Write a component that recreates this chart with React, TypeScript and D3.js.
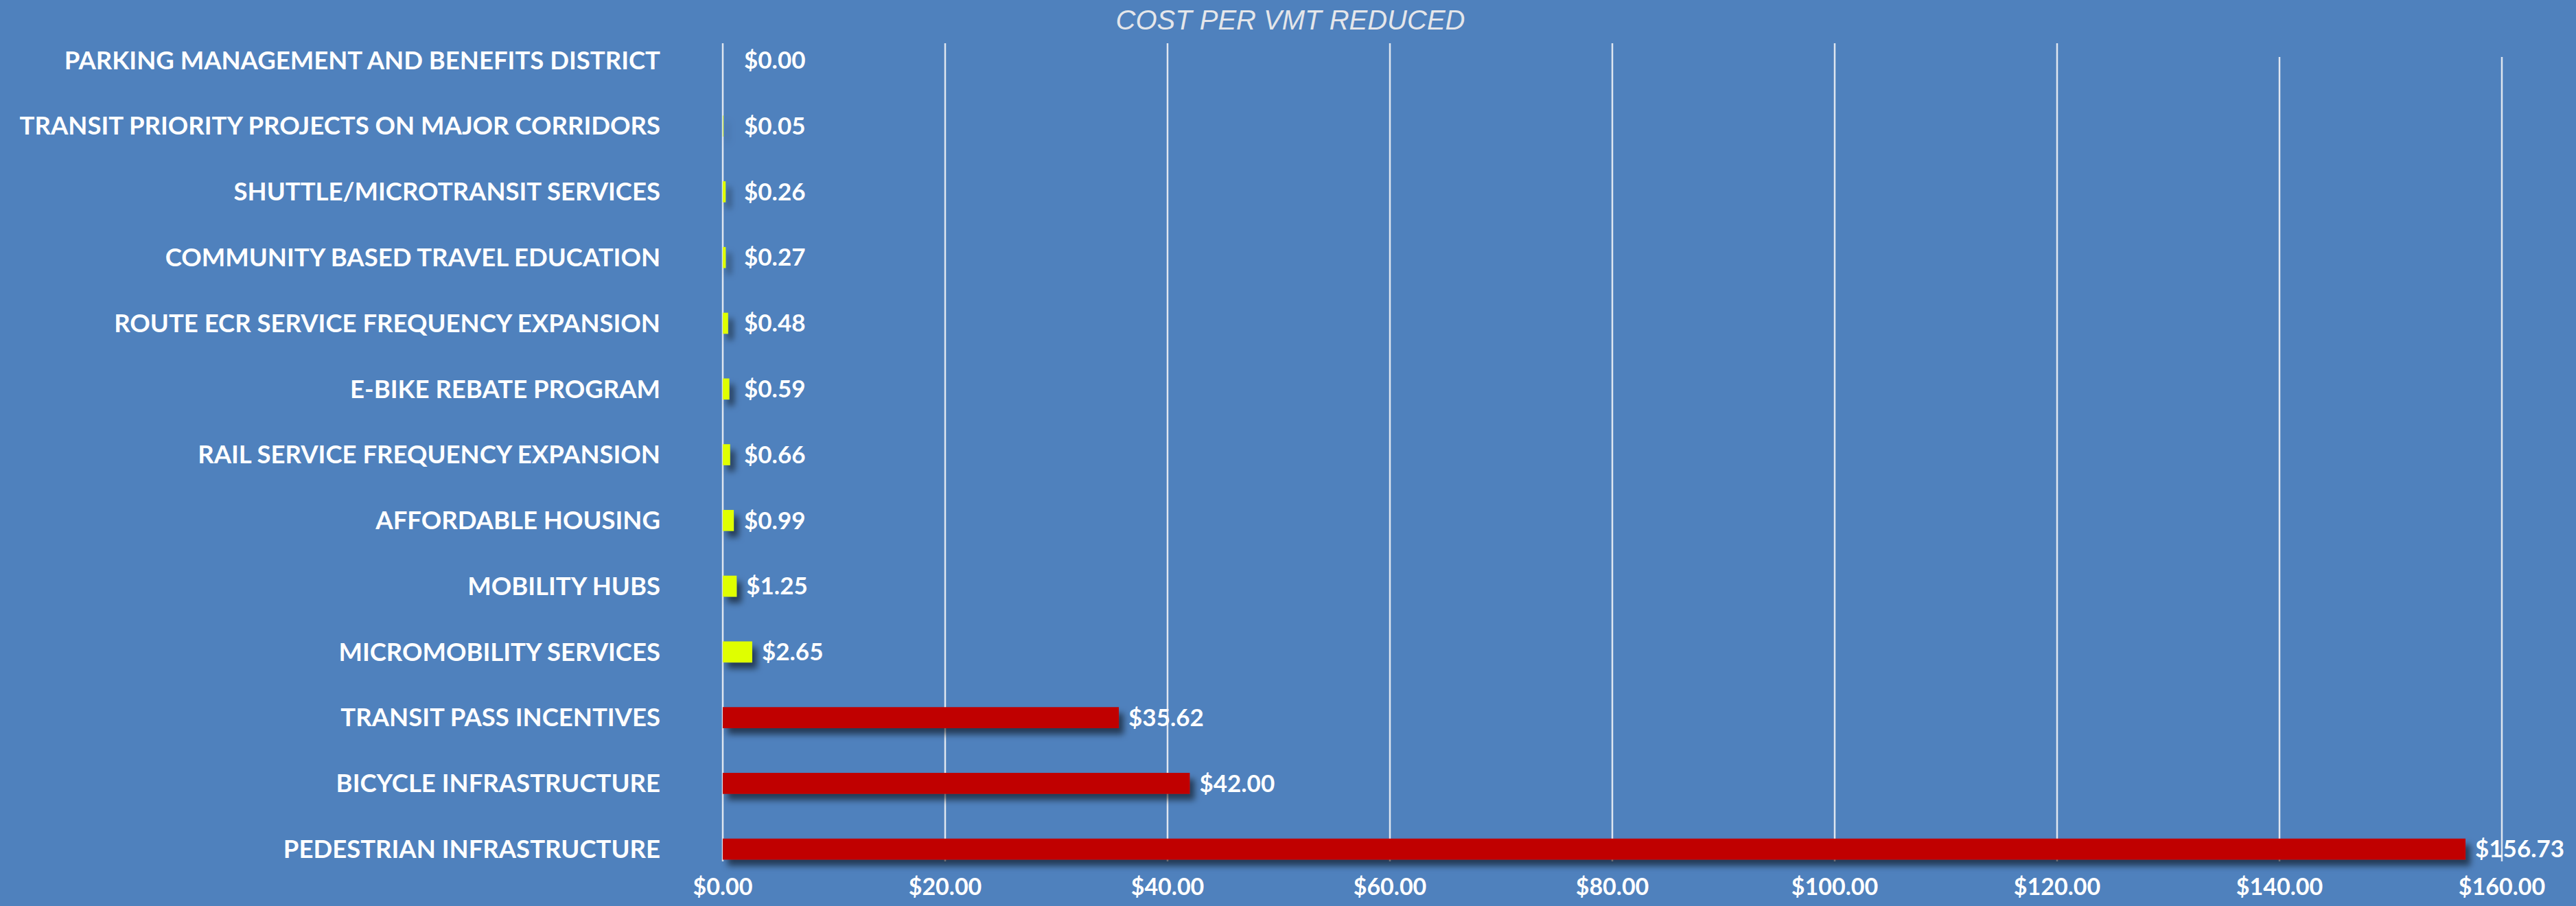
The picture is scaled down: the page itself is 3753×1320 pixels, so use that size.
import React, { useEffect, useRef } from "react";
import * as d3 from "d3";

const categories = [
    "PARKING MANAGEMENT AND BENEFITS DISTRICT",
    "TRANSIT PRIORITY PROJECTS ON MAJOR CORRIDORS",
    "SHUTTLE/MICROTRANSIT SERVICES",
    "COMMUNITY BASED TRAVEL EDUCATION",
    "ROUTE ECR SERVICE FREQUENCY EXPANSION",
    "E-BIKE REBATE PROGRAM",
    "RAIL SERVICE FREQUENCY EXPANSION",
    "AFFORDABLE HOUSING",
    "MOBILITY HUBS",
    "MICROMOBILITY SERVICES",
    "TRANSIT PASS INCENTIVES",
    "BICYCLE INFRASTRUCTURE",
    "PEDESTRIAN INFRASTRUCTURE",
];

const costs = [0.0, 0.05, 0.26, 0.27, 0.48, 0.59, 0.66, 0.99, 1.25, 2.65, 35.62, 42.0, 156.73];

const xTicks = [0, 20, 40, 60, 80, 100, 120, 140, 160];

const W = 3753;
const H = 1320;
const BG = "#4f81bd";
const RED = "#c00000";
const LIME = "#dfff00";
const LABEL_FONT = "Lato, 'Open Sans', sans-serif";

export default function App() {
    const ref = useRef(null);

    useEffect(() => {
        const svg = d3.select(ref.current);
        svg.selectAll("*").remove();

        const x = d3.scaleLinear().domain([0, 160]).range([1053, 3645]);
        const y = d3.scaleBand().domain(categories).range([40, 1285]).paddingInner(0.68).paddingOuter(0.34);

        const defs = svg.append("defs");
        defs.append("filter")
            .attr("id", "shadow")
            .attr("x", "-20%")
            .attr("y", "-50%")
            .attr("width", "140%")
            .attr("height", "250%")
            .append("feDropShadow")
            .attr("dx", 7)
            .attr("dy", 9)
            .attr("stdDeviation", 5)
            .attr("flood-color", "#000")
            .attr("flood-opacity", 0.55);

        svg.append("rect").attr("width", W).attr("height", H).attr("fill", BG);

        // title
        svg.append("text")
            .attr("x", 1880)
            .attr("y", 43)
            .attr("text-anchor", "middle")
            .attr("font-family", "'Liberation Sans', Arial, sans-serif")
            .attr("font-style", "italic")
            .attr("font-size", 40)
            .attr("fill", "#e4e6ea")
            .text("COST PER VMT REDUCED");

        // vertical gridlines (the last two start a bit lower, as in the original)
        svg.append("g")
            .selectAll("line")
            .data(xTicks)
            .join("line")
            .attr("x1", (d) => x(d))
            .attr("x2", (d) => x(d))
            .attr("y1", (d) => (d >= 140 ? 83 : 63))
            .attr("y2", 1255)
            .attr("stroke", "#dfe6f0")
            .attr("stroke-width", 2.5);

        // bars
        svg.append("g")
            .attr("filter", "url(#shadow)")
            .selectAll("rect")
            .data(categories)
            .join("rect")
            .attr("x", x(0))
            .attr("y", (d) => y(d))
            .attr("width", (d, i) => x(costs[i]) - x(0))
            .attr("height", y.bandwidth())
            .attr("fill", (d, i) => (costs[i] > 10 ? RED : LIME));

        // category labels
        svg.append("g")
            .attr("font-family", LABEL_FONT)
            .attr("font-weight", "bold")
            .attr("font-size", 36.5)
            .attr("fill", "#fff")
            .selectAll("text")
            .data(categories)
            .join("text")
            .attr("x", x(0) - 91)
            .attr("y", (d) => y(d) + y.bandwidth() / 2)
            .attr("dy", "0.35em")
            .attr("text-anchor", "end")
            .text((d) => d);

        // value labels
        svg.append("g")
            .attr("font-family", LABEL_FONT)
            .attr("font-weight", "bold")
            .attr("font-size", 35)
            .attr("fill", "#fff")
            .selectAll("text")
            .data(categories)
            .join("text")
            .attr("x", (d, i) => Math.max(x(costs[i]) + 14, x(0) + 31))
            .attr("y", (d) => y(d) + y.bandwidth() / 2)
            .attr("dy", "0.35em")
            .text((d, i) => "$" + d3.format(",.2f")(costs[i]));

        // x axis tick labels
        svg.append("g")
            .attr("font-family", LABEL_FONT)
            .attr("font-weight", "bold")
            .attr("font-size", 34)
            .attr("fill", "#fff")
            .selectAll("text")
            .data(xTicks)
            .join("text")
            .attr("x", (d) => x(d))
            .attr("y", 1292)
            .attr("dy", "0.35em")
            .attr("text-anchor", "middle")
            .text((d) => "$" + d3.format(".2f")(d));
    }, []);

    return (
        <div style={{ position: "absolute", left: 0, top: 0 }}>
            <svg ref={ref} width={W} height={H} style={{ display: "block" }}></svg>
        </div>
    );
}
